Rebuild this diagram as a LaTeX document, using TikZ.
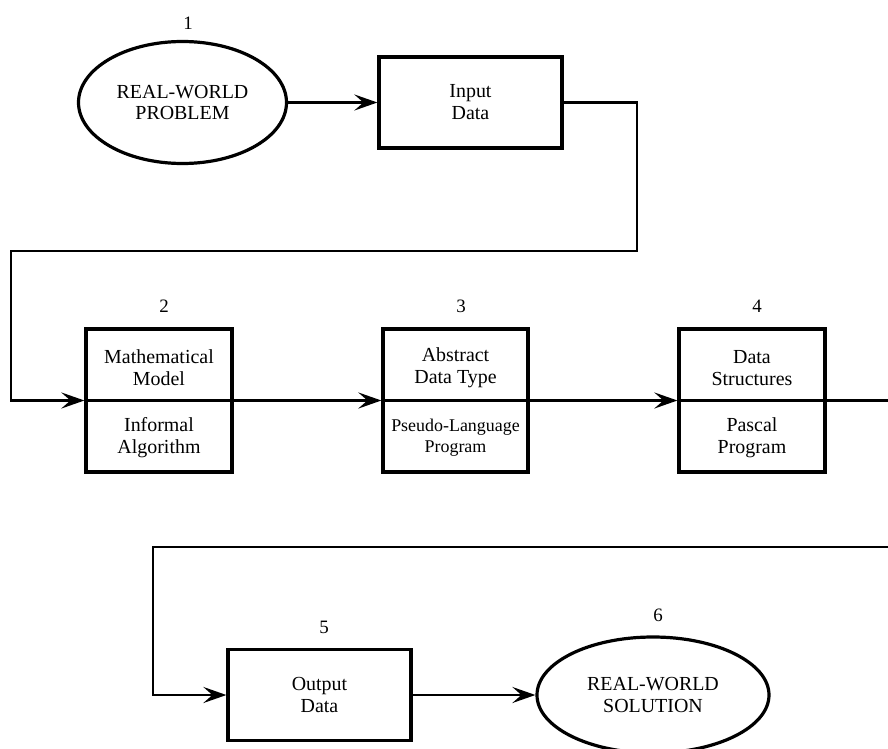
\documentclass[tikz,border=0pt]{standalone}
\usepackage{fontspec}
\setmainfont{Liberation Serif}
\usetikzlibrary{shapes.geometric,arrows.meta}
\begin{document}
\begin{tikzpicture}[x=1bp,y=-1bp,
  txt/.style={font=\fontsize{20}{22}\selectfont, align=center, inner sep=0pt},
  smalltxt/.style={font=\fontsize{18}{21}\selectfont, align=center, inner sep=0pt},
  num/.style={font=\fontsize{19}{21}\selectfont, inner sep=0pt},
  box/.style={draw, line width=3.2bp, inner sep=0pt, txt},
  oval/.style={draw, ellipse, line width=3.2bp, inner sep=0pt, txt},
  divider/.style={line width=3.2bp},
  conn/.style={line width=2.8bp, -{Stealth[length=23bp,width=16bp,inset=9bp]}}
]
\clip (0,0) rectangle (888,749);

% top row
\node[oval, minimum width=208bp, minimum height=122bp] (e1) at (182.5,102.5) {REAL-WORLD\\PROBLEM};
\node[num] (n1) at (188,23) {1};
\node[box, minimum width=183bp, minimum height=91bp] (b1) at (470.5,102.5) {Input\\Data};
\draw[conn] (e1.east) -- (b1.west);

% middle row
\node[box, minimum width=146bp, minimum height=143bp] (b2) at (159,400.5) {};
\node[txt] (b2t) at (159,368) {Mathematical\\Model};
\node[txt] (b2b) at (159,438) {Informal\\Algorithm};
\draw[divider] (b2.west) -- (b2.east);
\node[num] (n2) at (164,306) {2};

\node[box, minimum width=145bp, minimum height=143bp] (b3) at (455.5,400.5) {};
\node[txt] (b3t) at (455.5,368) {Abstract\\Data Type};
\node[smalltxt] (b3b) at (455.5,438) {Pseudo-Language\\Program};
\draw[divider] (b3.west) -- (b3.east);
\node[num] (n3) at (461,306) {3};

\node[box, minimum width=146bp, minimum height=143bp] (b4) at (752,400.5) {};
\node[txt] (b4t) at (752,368) {Data\\Structures};
\node[txt] (b4b) at (752,438) {Pascal\\Program};
\draw[divider] (b4.west) -- (b4.east);
\node[num] (n4) at (757,306) {4};

% bottom row
\node[box, minimum width=183bp, minimum height=91bp] (b5) at (319.5,695) {Output\\Data};
\node[num] (n5) at (324,627) {5};
\node[oval, minimum width=232bp, minimum height=116bp] (e6) at (653,695) {REAL-WORLD\\SOLUTION};
\node[num] (n6) at (658,615) {6};

% bend points
\coordinate (c1) at (637,251);
\coordinate (c2) at (11,251);
\coordinate (c3) at (895,547);
\coordinate (c4) at (153,547);

% connectors
\draw[conn] (b1.east) -| (c1) -- (c2) |- (b2.west);
\draw[conn] (b2.east) -- (b3.west);
\draw[conn] (b3.east) -- (b4.west);
\draw[conn] (b4.east) -| (c3) -- (c4) |- (b5.west);
\draw[conn] (b5.east) -- (e6.west);
\end{tikzpicture}
\end{document}
